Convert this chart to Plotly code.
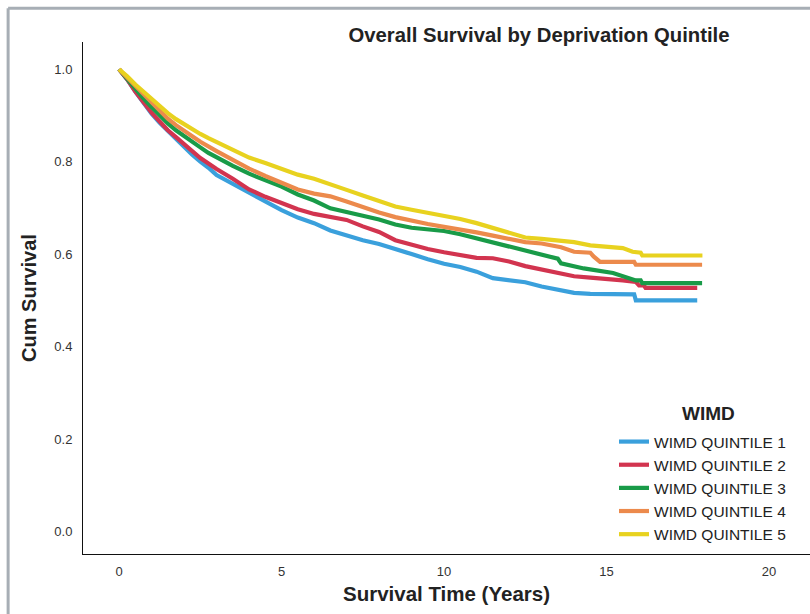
import plotly.graph_objects as go

# ---- data (time in years, cumulative survival) ----
t_q1 = [0, 0.25, 0.5, 0.75, 1.0, 1.25, 1.5, 1.75, 2.0, 2.25, 2.5, 2.75, 3.0, 3.5, 4.0, 4.5, 5.0, 5.5, 6.0, 6.5, 7.0, 7.5, 8.0, 8.5, 9.0, 9.5, 10.0, 10.5, 11.0, 11.5, 12.0, 12.5, 13.0, 13.5, 14.0, 14.5, 15.0, 15.5, 15.85, 15.9, 17.79]
s_q1 = [1.0, 0.978, 0.952, 0.926, 0.904, 0.884, 0.866, 0.849, 0.832, 0.815, 0.800, 0.787, 0.771, 0.752, 0.731, 0.712, 0.695, 0.679, 0.667, 0.651, 0.640, 0.630, 0.622, 0.612, 0.600, 0.589, 0.579, 0.572, 0.562, 0.548, 0.544, 0.539, 0.530, 0.522, 0.516, 0.514, 0.514, 0.513, 0.513, 0.500, 0.500]

t_q2 = [0, 0.25, 0.5, 0.75, 1.0, 1.25, 1.5, 1.75, 2.0, 2.25, 2.5, 2.75, 3.0, 3.5, 4.0, 4.5, 5.0, 5.5, 6.0, 6.5, 7.0, 7.5, 8.0, 8.5, 9.0, 9.5, 10.0, 10.5, 11.0, 11.5, 12.0, 12.5, 13.0, 13.5, 14.0, 14.5, 15.0, 15.5, 15.9, 16.0, 16.15, 16.2, 17.79]
s_q2 = [1.0, 0.978, 0.952, 0.929, 0.906, 0.887, 0.868, 0.853, 0.838, 0.823, 0.808, 0.796, 0.784, 0.763, 0.740, 0.724, 0.711, 0.697, 0.687, 0.681, 0.674, 0.660, 0.648, 0.630, 0.620, 0.611, 0.604, 0.598, 0.592, 0.591, 0.584, 0.574, 0.566, 0.558, 0.552, 0.549, 0.547, 0.543, 0.540, 0.532, 0.532, 0.527, 0.527]

t_q3 = [0, 0.25, 0.5, 0.75, 1.0, 1.25, 1.5, 1.75, 2.0, 2.25, 2.5, 2.75, 3.0, 3.5, 4.0, 4.5, 5.0, 5.5, 6.0, 6.5, 7.0, 7.5, 8.0, 8.5, 9.0, 9.5, 10.0, 10.5, 11.0, 11.5, 12.0, 12.5, 13.0, 13.5, 13.6, 14.3, 15.2, 15.7, 15.9, 16.05, 16.1, 17.94]
s_q3 = [1.0, 0.978, 0.956, 0.937, 0.918, 0.900, 0.883, 0.868, 0.855, 0.843, 0.831, 0.819, 0.809, 0.791, 0.774, 0.760, 0.746, 0.729, 0.716, 0.699, 0.690, 0.683, 0.675, 0.664, 0.657, 0.654, 0.650, 0.643, 0.634, 0.624, 0.615, 0.607, 0.597, 0.590, 0.580, 0.569, 0.559, 0.549, 0.543, 0.543, 0.537, 0.537]

t_q4 = [0, 0.25, 0.5, 0.75, 1.0, 1.25, 1.5, 1.75, 2.0, 2.25, 2.5, 2.75, 3.0, 3.5, 4.0, 4.5, 5.0, 5.5, 6.0, 6.5, 7.0, 7.5, 8.0, 8.5, 9.0, 9.5, 10.0, 10.5, 11.0, 11.5, 12.0, 12.5, 13.0, 13.6, 14.0, 14.5, 14.6, 14.8, 15.85, 15.9, 17.94]
s_q4 = [1.0, 0.982, 0.962, 0.944, 0.926, 0.910, 0.893, 0.879, 0.866, 0.855, 0.843, 0.832, 0.823, 0.804, 0.785, 0.769, 0.755, 0.740, 0.731, 0.725, 0.714, 0.701, 0.690, 0.680, 0.672, 0.665, 0.659, 0.654, 0.647, 0.640, 0.633, 0.626, 0.623, 0.615, 0.605, 0.603, 0.595, 0.583, 0.583, 0.577, 0.577]

t_q5 = [0, 0.25, 0.5, 0.75, 1.0, 1.25, 1.5, 1.75, 2.0, 2.25, 2.5, 2.75, 3.0, 3.5, 4.0, 4.5, 5.0, 5.5, 6.0, 6.5, 7.0, 7.5, 8.0, 8.5, 9.0, 9.5, 10.0, 10.5, 11.0, 11.5, 12.0, 12.5, 13.0, 13.5, 14.0, 14.5, 15.0, 15.5, 15.8, 16.05, 16.1, 17.95]
s_q5 = [1.0, 0.985, 0.967, 0.951, 0.936, 0.921, 0.905, 0.892, 0.881, 0.870, 0.860, 0.851, 0.843, 0.826, 0.809, 0.797, 0.784, 0.772, 0.763, 0.752, 0.739, 0.727, 0.715, 0.703, 0.696, 0.690, 0.683, 0.676, 0.667, 0.657, 0.645, 0.636, 0.633, 0.630, 0.626, 0.619, 0.616, 0.613, 0.605, 0.603, 0.597, 0.597]

series_names = ["WIMD QUINTILE 1", "WIMD QUINTILE 2", "WIMD QUINTILE 3", "WIMD QUINTILE 4", "WIMD QUINTILE 5"]
series_t = [t_q1, t_q2, t_q3, t_q4, t_q5]
series_s = [s_q1, s_q2, s_q3, s_q4, s_q5]
colors = ["#3aa0dc", "#d2344f", "#199b48", "#ec8a4c", "#e8d21f"]

x_ticks = [0, 5, 10, 15, 20]
y_ticks = [0.0, 0.2, 0.4, 0.6, 0.8, 1.0]

FONT = "Liberation Sans, Arial, sans-serif"

# plot area in pixels: x 83..810, y 42..554
def px_x(p):
    return (p - 83) / 727.0

def px_y(p):
    return (554 - p) / 512.0

fig = go.Figure()
for name, tt, ss, c in zip(series_names, series_t, series_s, colors):
    fig.add_trace(go.Scatter(
        x=tt, y=ss, mode="lines", name=name,
        line=dict(color=c, width=4.2, shape="linear"),
    ))

fig.update_layout(
    width=810, height=614,
    margin=dict(l=83, r=0, t=42, b=60),
    paper_bgcolor="white", plot_bgcolor="white",
    font=dict(family=FONT, color="#222"),
    title=dict(
        text="<b>Overall Survival by Deprivation Quintile</b>",
        font=dict(size=20.3, color="#222"),
        xref="paper", x=px_x(539), xanchor="center",
        yref="container", y=1 - 35 / 614, yanchor="middle",
    ),
    xaxis=dict(
        range=[-1.11, 21.26], tickvals=x_ticks, ticktext=[str(v) for v in x_ticks],
        showgrid=False, zeroline=False, showline=True, linecolor="#111", linewidth=1,
        ticks="", ticklabelstandoff=5,
        tickfont=dict(size=13, color="#333"),
        title=dict(text="<b>Survival Time (Years)</b>", font=dict(size=20.5, color="#222"), standoff=9),
    ),
    yaxis=dict(
        range=[-0.049, 1.059], tickvals=y_ticks, ticktext=[f"{v:.1f}" for v in y_ticks],
        showgrid=False, zeroline=False, showline=True, linecolor="#111", linewidth=1,
        ticks="", ticklabelstandoff=7,
        tickfont=dict(size=13, color="#333"),
        title=dict(text="<b>Cum Survival</b>", font=dict(size=20, color="#222"), standoff=12),
    ),
    legend=dict(
        font=dict(size=15.5, color="#222"),
        x=px_x(614), xanchor="left", y=px_y(425), yanchor="top",
        bgcolor="rgba(0,0,0,0)", itemwidth=30,
    ),
    annotations=[
        dict(text="<b>WIMD</b>", xref="paper", yref="paper", x=px_x(708), y=px_y(413),
             xanchor="center", yanchor="middle", showarrow=False,
             font=dict(size=19, color="#222", family=FONT)),
    ],
    shapes=[
        dict(type="line", xref="paper", yref="paper", x0=-0.103, x1=-0.103, y0=-0.2, y1=1.066,
             line=dict(color="#a7aeb5", width=3)),
        dict(type="line", xref="paper", yref="paper", x0=-0.103, x1=1.1, y0=1.066, y1=1.066,
             line=dict(color="#a7aeb5", width=3)),
    ],
)

fig.write_html("out.html")
